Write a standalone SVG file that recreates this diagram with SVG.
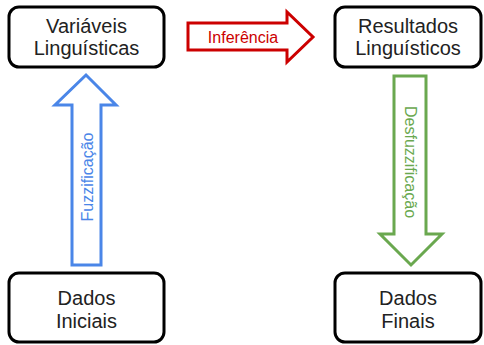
<svg xmlns="http://www.w3.org/2000/svg" width="484" height="345" viewBox="0 0 484 345">
<style>
.box{fill:#fff;stroke:#000;stroke-width:3}
.t{font-family:"Liberation Sans",Arial,sans-serif;font-size:20px;fill:#222;text-anchor:middle}
.lbl{font-family:"Liberation Sans",Arial,sans-serif;font-size:16px;text-anchor:middle;dominant-baseline:central}
.arr{fill:#fff;stroke-width:3;stroke-linejoin:miter}
</style>
<rect width="484" height="345" fill="#fff"/>
<g id="connectors">
<g id="inferencia">
<path class="arr" d="M188,23 H287 V12 L313,37 L287,62 V50 H188 Z" stroke="#cc0000"/>
<text class="lbl" x="243" y="37" fill="#cc0000">Inferência</text>
</g>
<g id="fuzzificacao">
<path class="arr" d="M72,265 V105 H55 L86,75 L116,105 H101 V265 Z" stroke="#4a86e8"/>
<text class="lbl" transform="translate(87,177) rotate(-90)" fill="#4a86e8">Fuzzificação</text>
</g>
<g id="desfuzzificacao">
<path class="arr" d="M394,76 V234 H380 L411,265 L442,234 H426 V76 Z" stroke="#6aa84f"/>
<text class="lbl" transform="translate(410,162) rotate(90)" fill="#6aa84f">Desfuzzificação</text>
</g>
</g>
<g id="variaveis">
<rect class="box" x="9" y="7" width="155" height="60" rx="10"/>
<text class="t" x="86.5" y="33">Variáveis</text>
<text class="t" x="86.5" y="55">Linguísticas</text>
</g>
<g id="resultados">
<rect class="box" x="335" y="7" width="146" height="60" rx="10"/>
<text class="t" x="408" y="33">Resultados</text>
<text class="t" x="408" y="55">Linguísticos</text>
</g>
<g id="iniciais">
<rect class="box" x="9" y="273" width="155" height="69" rx="10"/>
<text class="t" x="86.5" y="305">Dados</text>
<text class="t" x="86.5" y="328">Iniciais</text>
</g>
<g id="finais">
<rect class="box" x="335" y="273" width="146" height="69" rx="10"/>
<text class="t" x="408" y="305">Dados</text>
<text class="t" x="408" y="328">Finais</text>
</g>
</svg>
